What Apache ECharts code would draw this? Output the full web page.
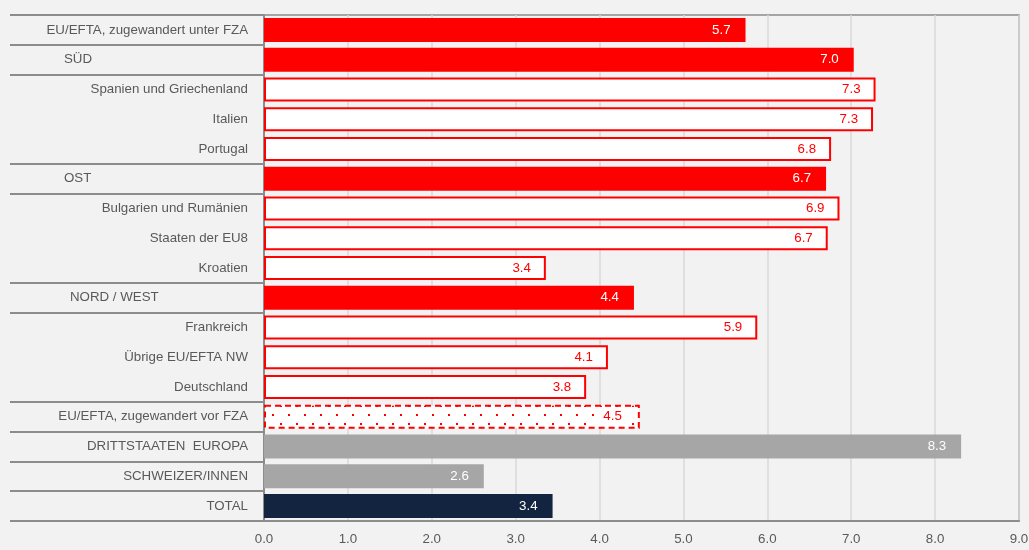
<!DOCTYPE html>
<html>
<head>
<meta charset="utf-8">
<script src="https://cdn.jsdelivr.net/npm/echarts@6/dist/echarts.min.js"></script>
<style>
  html, body { margin: 0; padding: 0; background: #f2f2f2; }
  #chart { width: 1029px; height: 550px; }
</style>
</head>
<body>
<div id="chart"></div>
<script>
  var categories = [
    'EU/EFTA, zugewandert unter FZA', 'SÜD', 'Spanien und Griechenland', 'Italien', 'Portugal',
    'OST', 'Bulgarien und Rumänien', 'Staaten der EU8', 'Kroatien',
    'NORD / WEST', 'Frankreich', 'Übrige EU/EFTA NW', 'Deutschland',
    'EU/EFTA, zugewandert vor FZA', 'DRITTSTAATEN  EUROPA', 'SCHWEIZER/INNEN', 'TOTAL'
  ];
  var values = [5.74, 7.03, 7.29, 7.26, 6.76, 6.70, 6.86, 6.72, 3.36, 4.41, 5.88, 4.10, 3.84, 4.48, 8.31, 2.62, 3.44];
  // kind of each row (group header, country, ...)
  var rowKinds = ['euFZA', 'region', 'country', 'country', 'country', 'region', 'country', 'country', 'country',
    'region', 'country', 'country', 'country', 'euBeforeFZA', 'thirdStates', 'swiss', 'total'];

  var FONT = "'Liberation Sans', Arial, sans-serif";
  var RED = '#ff0000';

  // white fill with staggered red dots
  function dotPattern() {
    var c = document.createElement('canvas');
    c.width = 16; c.height = 18;
    var ctx = c.getContext('2d');
    ctx.fillStyle = '#ffffff';
    ctx.fillRect(0, 0, 16, 18);
    ctx.fillStyle = RED;
    ctx.fillRect(0, 0, 2, 2);
    ctx.fillRect(8, 9, 2, 2);
    return c;
  }

  var kindStyle = {
    euFZA: { item: { color: RED }, text: '#ffffff' },
    region: { item: { color: RED }, text: '#ffffff' },
    country: { item: { color: '#ffffff', borderColor: RED, borderWidth: 2 }, text: RED },
    euBeforeFZA: {
      item: { color: { image: dotPattern(), repeat: 'repeat' }, borderColor: RED, borderWidth: 2, borderType: [6, 4] },
      text: RED, bg: '#ffffff'
    },
    thirdStates: { item: { color: '#a6a6a6' }, text: '#ffffff' },
    swiss: { item: { color: '#a6a6a6' }, text: '#ffffff' },
    total: { item: { color: '#12243f' }, text: '#ffffff' }
  };

  var barData = values.map(function (v, i) {
    var s = kindStyle[rowKinds[i]];
    var lbl = { color: s.text };
    if (s.bg) {
      lbl.backgroundColor = s.bg;
      lbl.padding = [2, 8];
      lbl.distance = 10;
    }
    return { value: v, itemStyle: s.item, label: lbl };
  });

  // separator lines in the label column: around group headers and bottom rows
  function isSeparator(idx) {
    if (rowKinds[idx] !== 'country') return true;
    return idx > 0 && rowKinds[idx - 1] !== 'country';
  }

  var chart = echarts.init(document.getElementById('chart'));
  chart.setOption({
    backgroundColor: '#f2f2f2',
    animation: false,
    textStyle: { fontFamily: FONT },
    grid: [
      { left: 264, right: 10, top: 15, bottom: 29, show: true, borderColor: '#8c8c8c', borderWidth: 1.5, outerBoundsMode: 'none' },
      { left: 10, width: 254, top: 15, bottom: 29, outerBoundsMode: 'none' }
    ],
    xAxis: [
      {
        gridIndex: 0, type: 'value', min: 0, max: 9, interval: 1,
        axisLine: { show: true, lineStyle: { color: '#8c8c8c', width: 2 } },
        axisTick: { show: false },
        axisLabel: {
          color: '#595959', fontSize: 13.3, fontFamily: FONT, margin: 12,
          formatter: function (v) { return v.toFixed(1); }
        },
        splitLine: { show: true, lineStyle: { color: '#d9d9d9', width: 1.5 } }
      },
      { gridIndex: 1, type: 'value', show: false }
    ],
    yAxis: [
      {
        gridIndex: 0, type: 'category', data: categories, inverse: true,
        axisLine: { show: true, lineStyle: { color: '#8c8c8c', width: 2 } },
        axisTick: { show: false },
        splitLine: { show: false },
        axisLabel: {
          color: '#595959', fontSize: 13.3, fontFamily: FONT, margin: 16,
          formatter: function (v, i) {
            if (rowKinds[i] === 'region') {
              return (v === 'NORD / WEST' ? '{h2|' : '{h1|') + v + '}';
            }
            return v;
          },
          rich: {
            h1: { width: 184, align: 'left', color: '#595959', fontSize: 13.3, fontFamily: FONT },
            h2: { width: 178, align: 'left', color: '#595959', fontSize: 13.3, fontFamily: FONT }
          }
        }
      },
      {
        gridIndex: 1, type: 'category', data: categories, inverse: true,
        min: 0, max: categories.length - 1,
        axisLine: { show: false },
        axisTick: { show: false },
        axisLabel: { show: false },
        splitLine: {
          show: true,
          interval: function (idx) { return isSeparator(idx); },
          lineStyle: { color: '#8c8c8c', width: 2 }
        }
      }
    ],
    series: [
      {
        type: 'bar',
        xAxisIndex: 0, yAxisIndex: 0,
        barWidth: 24,
        data: barData,
        label: {
          show: true, position: 'insideRight', distance: 15,
          fontSize: 13.3, fontFamily: FONT,
          formatter: function (p) { return p.value.toFixed(1); }
        }
      }
    ]
  });
</script>
</body>
</html>
